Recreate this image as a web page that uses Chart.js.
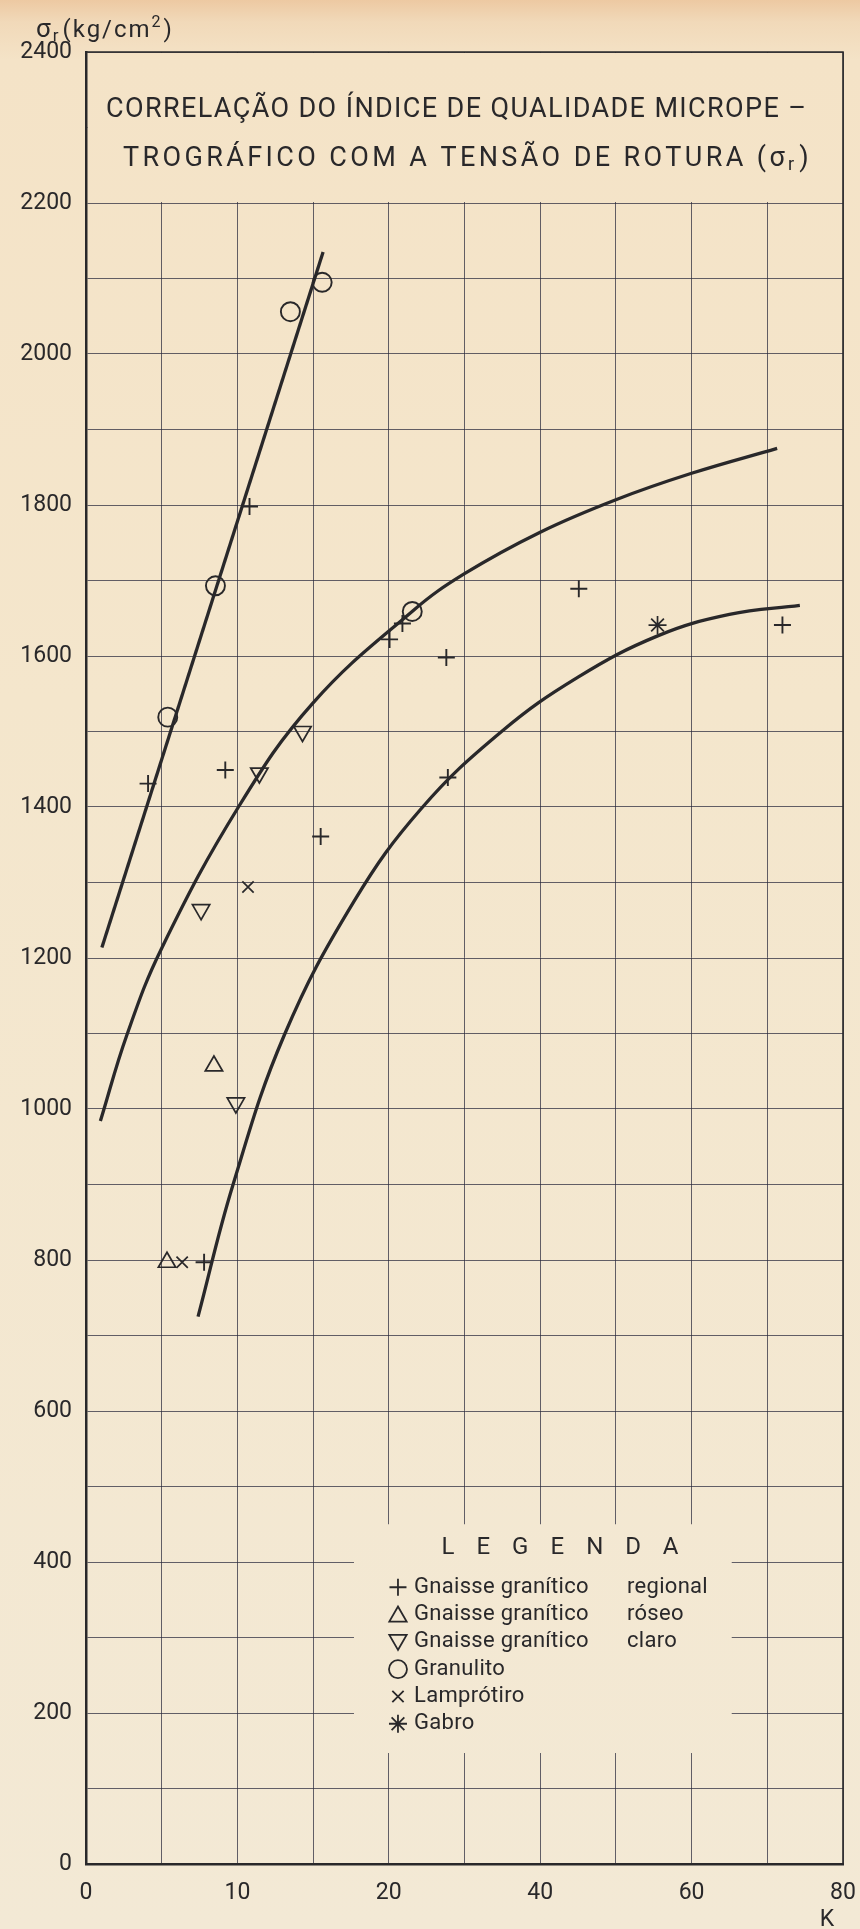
<!DOCTYPE html>
<html lang="pt">
<head>
<meta charset="utf-8">
<title>Correlação do índice de qualidade micropetrográfico com a tensão de rotura</title>
<script src="https://cdn.jsdelivr.net/npm/chart.js@4.4.1/dist/chart.umd.min.js"></script>
<style>
  html, body { margin: 0; padding: 0; }
  body {
    width: 860px;
    height: 1929px;
    overflow: hidden;
    background: linear-gradient(to bottom, #edc9a2 0px, #f1d9b9 22px, #f4e3c7 60px, #f4e6cc 700px, #f3e9d5 1929px);
  }
  #wrap { position: relative; width: 860px; height: 1929px; }
</style>
</head>
<body>
<div id="wrap"><canvas id="chart"></canvas></div>
<script>
// eixo K: escala desigual (0-20 de 5 em 5, depois 20-80 de 10 em 10)
const kTickLabels = [0, 10, 20, 40, 60, 80];
const kGridLines = [0, 5, 10, 15, 20, 30, 40, 50, 60, 70, 80];
const sigmaTickLabels = [0, 200, 400, 600, 800, 1000, 1200, 1400, 1600, 1800, 2000, 2200, 2400];
const sigmaGridStep = 100;

// pontos medidos [K, σr]
const gnaisseRegional = [[4.1, 1431], [7.8, 797], [9.2, 1449], [10.8, 1798], [15.5, 1361], [20.1, 1622], [21.8, 1643], [27.6, 1598], [27.8, 1439], [45.1, 1689], [72.0, 1641]];
const gnaisseRoseo = [[5.35, 797], [8.45, 1057]];
const gnaisseClaro = [[7.6, 1264], [9.9, 1008], [11.45, 1445], [14.3, 1500]];
const granulito = [[5.4, 1519], [8.55, 1693], [13.5, 2056], [15.6, 2095], [23.1, 1659]];
const lamprotiro = [[6.35, 797], [10.7, 1294]];
const gabro = [[55.5, 1641]];

// curvas traçadas
const retaGranulito = [[1.05, 1214], [15.66, 2135]];
const curvaMedia = [[0.95, 984], [2.7, 1098], [5, 1213], [10.1, 1401], [15, 1538], [23.2, 1660], [30, 1709], [40, 1764], [50, 1807], [60, 1842], [71.3, 1875]];
const curvaInferior = [[7.4, 725], [9.7, 899], [13.1, 1098], [17.7, 1275], [24.3, 1398], [34.9, 1500], [45, 1572], [55.6, 1627], [65, 1655], [74.3, 1667]];

const INK = "#29282a";
const GRID = "rgba(40, 40, 60, 0.72)";
const FONT = "Roboto, 'DejaVu Sans', sans-serif";
const legendBox = { k0: 17.7, k1: 65.3, s0: 147, s1: 450 };

const pts = (arr) => arr.map(([x, y]) => ({ x, y }));

function kToUnit(k) {
  return k <= 20 ? k / 5 : 4 + (k - 20) / 10;
}
function unitToK(u) {
  return u <= 4 ? u * 5 : 20 + (u - 4) * 10;
}

const LinearScale = Chart.LinearScale || Chart.registry.getScale("linear");

class KScale extends LinearScale {
  getPixelForValue(value) {
    return this.getPixelForDecimal(kToUnit(value) / kToUnit(this.max));
  }
  getValueForPixel(pixel) {
    return unitToK(this.getDecimalForPixel(pixel) * kToUnit(this.max));
  }
}
KScale.id = "kscale";
KScale.defaults = {};
Chart.register(KScale);

Chart.defaults.font.family = FONT;
Chart.defaults.color = INK;

function marks(label, data, style, radius, width, rotation) {
  return {
    label: label,
    data: pts(data),
    showLine: false,
    pointStyle: style,
    pointRadius: radius,
    pointRotation: rotation || 0,
    pointBorderWidth: width,
    pointBorderColor: INK,
    pointBackgroundColor: "rgba(0,0,0,0)",
    legendRow: true,
  };
}

function curve(data) {
  return {
    type: "line",
    data: pts(data),
    borderColor: INK,
    borderWidth: 3.3,
    pointRadius: 0,
    fill: false,
    tension: 0.4,
    legendRow: false,
  };
}

const datasets = [
  marks("Gnaisse granítico regional", gnaisseRegional, "cross", 8.5, 1.9),
  marks("Gnaisse granítico róseo", gnaisseRoseo, "triangle", 10, 1.7),
  marks("Gnaisse granítico claro", gnaisseClaro, "triangle", 10, 1.7, 180),
  marks("Granulito", granulito, "circle", 9.5, 1.9),
  marks("Lamprótiro", lamprotiro, "crossRot", 8, 1.7),
  marks("Gabro", gabro, "star", 9, 1.7),
  curve(retaGranulito),
  curve(curvaMedia),
  curve(curvaInferior),
];

function spacedText(ctx, text, x, y, width) {
  ctx.letterSpacing = "0px";
  const w = ctx.measureText(text).width;
  const n = [...text].length;
  ctx.letterSpacing = ((width - w) / (n - 1)).toFixed(2) + "px";
  ctx.fillText(text, x, y);
  const out = ctx.measureText(text).width;
  ctx.letterSpacing = "0px";
  return out;
}

const paperPlugin = {
  id: "paper",
  beforeDatasetsDraw(chart) {
    const { ctx, chartArea: a, scales } = chart;
    const x = scales.x, y = scales.y;
    ctx.save();

    // clear the grid behind the title box and the legend
    ctx.globalCompositeOperation = "destination-out";
    const y2200 = y.getPixelForValue(2200);
    ctx.fillRect(a.left + 2, a.top + 1, a.right - a.left - 2, y2200 - a.top - 2);
    const lx0 = x.getPixelForValue(legendBox.k0);
    const lx1 = x.getPixelForValue(legendBox.k1);
    const ly0 = y.getPixelForValue(legendBox.s1);
    const ly1 = y.getPixelForValue(legendBox.s0);
    ctx.fillRect(lx0, ly0, lx1 - lx0, ly1 - ly0);
    ctx.globalCompositeOperation = "source-over";

    // frame top and right
    ctx.strokeStyle = INK;
    ctx.lineWidth = 1.6;
    ctx.beginPath();
    ctx.moveTo(a.left, a.top);
    ctx.lineTo(a.right, a.top);
    ctx.lineTo(a.right, a.bottom);
    ctx.stroke();

    // title
    ctx.fillStyle = INK;
    ctx.textBaseline = "alphabetic";
    ctx.textAlign = "left";
    ctx.font = "27px " + FONT;
    spacedText(ctx, "CORRELAÇÃO DO ÍNDICE DE QUALIDADE MICROPE –", a.left + 20, a.top + 65, 700);
    const pw = ctx.measureText(")").width;
    ctx.font = "18px " + FONT;
    const rw = ctx.measureText("r").width;
    ctx.font = "27px " + FONT;
    const main = "TROGRÁFICO COM A TENSÃO DE ROTURA (σ";
    const x2 = a.left + 37;
    const used = spacedText(ctx, main, x2, a.top + 114, 683 - rw - pw - 6);
    ctx.font = "18px " + FONT;
    ctx.fillText("r", x2 + used, a.top + 118);
    ctx.font = "27px " + FONT;
    ctx.fillText(")", x2 + used + rw + 5, a.top + 114);

    // legend
    ctx.font = "24px " + FONT;
    ctx.textAlign = "left";
    ctx.textBaseline = "middle";
    ctx.letterSpacing = "0px";
    const lw = ctx.measureText("LEGENDA").width;
    const target = 237;
    const ls = (target - lw) / 6;
    ctx.letterSpacing = ls.toFixed(2) + "px";
    ctx.fillText("LEGENDA", lx0 + 206 - target / 2, ly0 + 24);
    ctx.letterSpacing = "0.3px";

    const rows = chart.data.datasets.filter((d) => d.legendRow);
    ctx.font = "22px " + FONT;
    rows.forEach((d, i) => {
      const cy = ly0 + 63 + i * 27.3;
      const sym = {
        pointStyle: d.pointStyle,
        rotation: d.pointRotation,
        radius: d.pointStyle === "circle" ? 9 : d.pointRadius,
        borderWidth: 1.8,
      };
      ctx.strokeStyle = INK;
      ctx.fillStyle = "rgba(0,0,0,0)";
      ctx.lineWidth = 1.8;
      Chart.helpers.drawPoint(ctx, sym, lx0 + 44, cy + (d.pointStyle === "triangle" ? (d.pointRotation ? -2 : 2) : 0));
      ctx.fillStyle = INK;
      const m = d.label.match(/^(Gnaisse granítico)\s+(.*)$/);
      if (m) {
        ctx.fillText(m[1], lx0 + 60, cy);
        ctx.fillText(m[2], lx0 + 273, cy);
      } else {
        ctx.fillText(d.label, lx0 + 60, cy);
      }
    });
    ctx.restore();
  },
  afterDraw(chart) {
    const { ctx, chartArea: a, scales } = chart;
    ctx.save();
    ctx.fillStyle = INK;
    ctx.textBaseline = "alphabetic";
    ctx.textAlign = "left";
    // y axis title σr (kg/cm²)
    let cx = 36;
    const base = 37;
    ctx.letterSpacing = "2px";
    ctx.font = "26px " + FONT;
    ctx.fillText("σ", cx, base);
    cx += ctx.measureText("σ").width;
    ctx.font = "17px " + FONT;
    ctx.fillText("r", cx, base + 4);
    cx += ctx.measureText("r").width + 2;
    ctx.font = "24px " + FONT;
    ctx.fillText("(kg/cm", cx, base);
    cx += ctx.measureText("(kg/cm").width;
    ctx.font = "16px " + FONT;
    ctx.fillText("2", cx, base - 10);
    cx += ctx.measureText("2").width + 1;
    ctx.font = "24px " + FONT;
    ctx.fillText(")", cx, base);
    // x axis title
    ctx.letterSpacing = "0px";
    ctx.textAlign = "center";
    ctx.textBaseline = "middle";
    ctx.font = "23px " + FONT;
    ctx.fillText("K", scales.x.getPixelForValue(80) - 16, a.bottom + 56);
    ctx.restore();
  },
};

new Chart(document.getElementById("chart"), {
  type: "scatter",
  data: { datasets: datasets },
  plugins: [paperPlugin],
  options: {
    responsive: true,
    maintainAspectRatio: false,
    animation: false,
    events: [],
    layout: { padding: { top: 52, right: 17, left: 0, bottom: 0 } },
    plugins: {
      legend: { display: false },
      tooltip: { enabled: false },
    },
    scales: {
      x: {
        type: "kscale",
        min: 0,
        max: 80,
        afterBuildTicks: (s) => {
          s.ticks = kGridLines.map((v) => ({ value: v }));
        },
        afterFit: (s) => {
          s.height = 65;
          s.paddingLeft = 0;
          s.paddingRight = 0;
        },
        grid: { color: GRID, lineWidth: 1, drawTicks: false },
        border: { color: INK, width: 2.5 },
        ticks: {
          autoSkip: false,
          maxRotation: 0,
          padding: 15,
          color: INK,
          font: { size: 23 },
          callback: (v) => (kTickLabels.includes(v) ? String(v) : ""),
        },
      },
      y: {
        type: "linear",
        min: 0,
        max: 2400,
        afterFit: (s) => {
          s.width = 86;
        },
        grid: { color: GRID, lineWidth: 1, drawTicks: false },
        border: { color: INK, width: 2.5 },
        ticks: {
          stepSize: sigmaGridStep,
          autoSkip: false,
          padding: 14,
          color: INK,
          font: { size: 23 },
          callback: (v) => (sigmaTickLabels.includes(v) ? String(v) : ""),
        },
      },
    },
  },
});
</script>
</body>
</html>
